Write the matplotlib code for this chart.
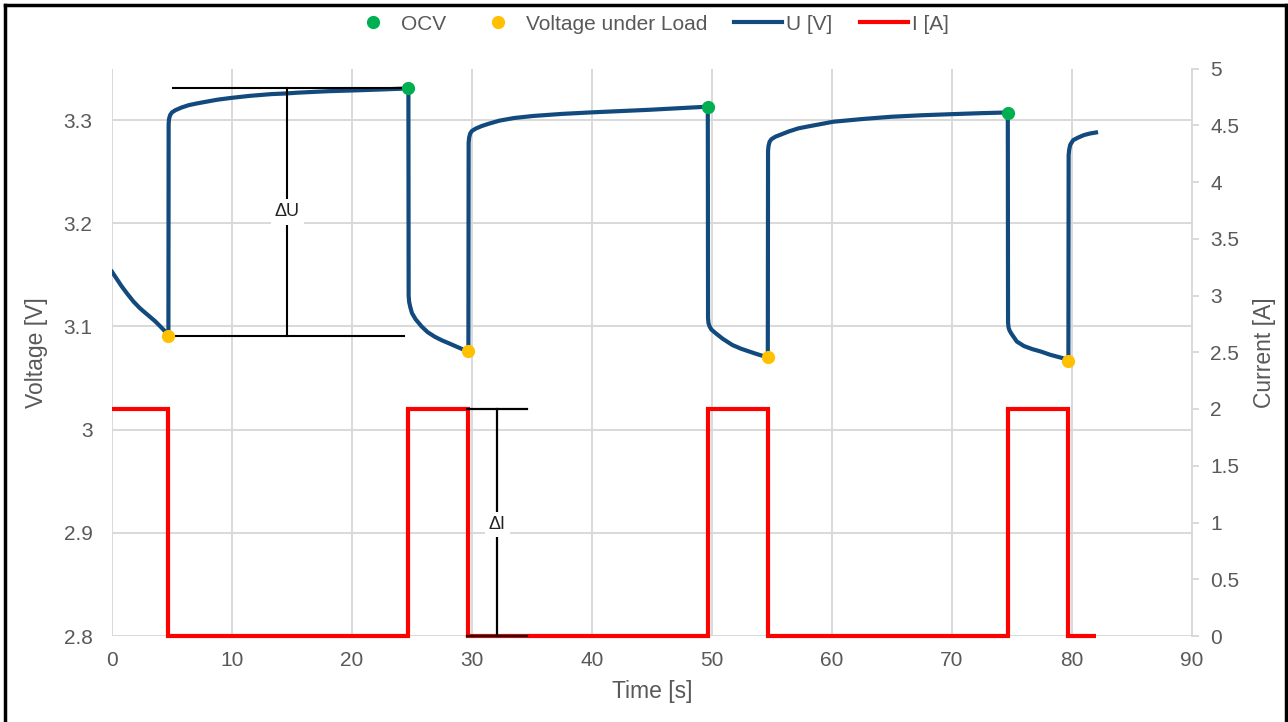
import matplotlib
matplotlib.use("Agg")
import matplotlib.pyplot as plt
from matplotlib.lines import Line2D

# ---------------- data ----------------
time_u = [0, 0.4, 0.8, 1.25, 1.8, 2.3, 2.64, 3.2, 3.6, 4.03, 4.4, 4.7,
          4.72, 4.75, 4.85, 5.0, 5.3, 5.8, 6.4, 7.1, 7.8, 8.8, 10.0, 11.5, 13.3, 14.5,
          15.5, 18.0, 20.5, 22.5, 24.7,
          24.72, 24.76, 24.85, 25.0, 25.3, 25.8, 26.3, 26.9, 27.5, 28.05, 28.7, 29.4, 29.7,
          29.72, 29.76, 29.85, 30.0, 30.3, 30.8, 31.4, 32.3, 33.5, 35.1, 37.5, 40.0,
          42.5, 44.8, 47.2, 49.65,
          49.67, 49.71, 49.8, 49.95, 50.3, 50.9, 51.7, 52.4, 53.1, 53.8, 54.65,
          54.67, 54.71, 54.8, 54.95, 55.3, 55.7, 56.4, 57.2, 57.9, 59.0, 60.1, 62.5,
          64.9, 67.5, 70.1, 72.4, 74.65,
          74.67, 74.71, 74.8, 74.95, 75.4, 76.0, 76.7, 77.4, 78.2, 79.0, 79.7,
          79.72, 79.76, 79.85, 80.1, 80.5, 81.0, 81.5, 82.0]
voltage = [3.153, 3.146, 3.139, 3.132, 3.124, 3.118, 3.1145, 3.109, 3.105, 3.100, 3.0955, 3.091,
           3.296, 3.301, 3.305, 3.3075, 3.3097, 3.3122, 3.3145, 3.3162, 3.3177, 3.3198, 3.3216,
           3.3235, 3.3252, 3.3258, 3.3266, 3.328, 3.3289, 3.3297, 3.3307,
           3.130, 3.124, 3.119, 3.1129, 3.107, 3.100, 3.0945, 3.090, 3.0865, 3.0838, 3.0805,
           3.077, 3.0763,
           3.278, 3.283, 3.287, 3.2895, 3.2917, 3.2942, 3.2965, 3.2995, 3.302, 3.304, 3.306,
           3.3075, 3.3088, 3.310, 3.3115, 3.313,
           3.108, 3.103, 3.100, 3.097, 3.0935, 3.088, 3.082, 3.0785, 3.0757, 3.073, 3.070,
           3.270, 3.275, 3.279, 3.2815, 3.284, 3.2858, 3.289, 3.292, 3.2936, 3.296, 3.2984,
           3.301, 3.3032, 3.3047, 3.3058, 3.3067, 3.3074,
           3.104, 3.099, 3.096, 3.093, 3.0854, 3.081, 3.078, 3.0757, 3.0725, 3.070, 3.0677,
           3.266, 3.271, 3.276, 3.2806, 3.283, 3.2855, 3.287, 3.288]

time_i = [0, 4.7, 4.7, 24.7, 24.7, 29.7, 29.7, 49.7, 49.7, 54.7, 54.7, 74.7, 74.7, 79.7, 79.7, 82.0]
current = [2, 2, 0, 0, 2, 2, 0, 0, 2, 2, 0, 0, 2, 2, 0, 0]

ocv_t = [24.7, 49.65, 74.65]
ocv_v = [3.3307, 3.313, 3.307]
load_t = [4.7, 29.7, 54.65, 79.7]
load_v = [3.091, 3.0763, 3.070, 3.067]

x_ticks = [0, 10, 20, 30, 40, 50, 60, 70, 80, 90]
v_ticks = [2.8, 2.9, 3.0, 3.1, 3.2, 3.3]
v_ticklabels = ["2.8", "2.9", "3", "3.1", "3.2", "3.3"]
i_ticks = [0, 0.5, 1, 1.5, 2, 2.5, 3, 3.5, 4, 4.5, 5]
i_ticklabels = ["0", "0.5", "1", "1.5", "2", "2.5", "3", "3.5", "4", "4.5", "5"]

# annotation extents (time) and label heights
du_x0, du_x1, du_xm, du_label_v = 5.1, 24.3, 14.6, 3.211
di_x0, di_x1, di_xm, di_label_i = 29.6, 34.6, 32.1, 0.98

# ---------------- style ----------------
GRAY = "#595959"
GRID = "#D9D9D9"
BLUE = "#124A7E"
RED = "#FF0000"
GREEN = "#00B050"
YELLOW = "#FFC000"
plt.rcParams["font.family"] = ["Liberation Sans", "DejaVu Sans"]

W, H = 1288, 722
fig = plt.figure(figsize=(W / 100, H / 100), dpi=100)
ax = fig.add_axes([112 / W, 1 - 636 / H, (1192 - 112) / W, (636 - 68.5) / H])
ax2 = ax.twinx()

# voltage axis
ax.set_xlim(0, 90)
ax.set_ylim(2.8, 3.35)
ax.set_xticks(x_ticks)
ax.set_yticks(v_ticks)
ax.set_yticklabels(v_ticklabels)
ax.grid(True, color=GRID, linewidth=1.4)
ax.set_axisbelow(True)
for s in ax.spines.values():
    s.set_visible(False)
ax.tick_params(axis="both", length=0, labelsize=15, labelcolor=GRAY)
ax.tick_params(axis="x", pad=11)
ax.tick_params(axis="y", pad=14)
ax.set_xlabel("Time [s]", fontsize=16.5, color=GRAY, labelpad=7)
ax.set_ylabel("Voltage [V]", fontsize=16.5, color=GRAY, labelpad=11)

# current axis
ax2.set_ylim(0, 5)
ax2.set_yticks(i_ticks)
ax2.set_yticklabels(i_ticklabels)
for k, s in ax2.spines.items():
    s.set_visible(k == "right")
ax2.spines["right"].set_color(GRID)
ax2.spines["right"].set_linewidth(1.4)
ax2.tick_params(axis="y", length=5, width=1.4, color=GRID, labelsize=15, labelcolor=GRAY, pad=8)
ax2.set_ylabel("Current [A]", fontsize=16.5, color=GRAY, labelpad=10)

# series
ax2.plot(time_i, current, color=RED, linewidth=3, solid_joinstyle="miter",
         solid_capstyle="butt", clip_on=False, zorder=3)
ax.plot(time_u, voltage, color=BLUE, linewidth=3, solid_joinstyle="round", zorder=3)
ax.plot(ocv_t, ocv_v, "o", color=GREEN, markersize=8.5, zorder=5)
ax.plot(load_t, load_v, "o", color=YELLOW, markersize=8.5, zorder=5)

# ΔU annotation
u_top, u_bot = ocv_v[0], load_v[0]
for xs, ys in [((du_x0, du_x1), (u_top, u_top)), ((du_x0, du_x1), (u_bot, u_bot)),
               ((du_xm, du_xm), (u_bot, u_top))]:
    ax.plot(xs, ys, color="black", linewidth=1.5, zorder=4)
ax.text(du_xm, du_label_v, "ΔU", ha="center", va="center", fontsize=13, color="#222222",
        bbox=dict(facecolor="white", edgecolor="none", pad=3), zorder=6)

# ΔI annotation
i_top, i_bot = current[0], current[2]
for xs, ys in [((di_x0, di_x1), (i_top, i_top)), ((di_x0, di_x1), (i_bot, i_bot)),
               ((di_xm, di_xm), (i_bot, i_top))]:
    ax2.plot(xs, ys, color="black", linewidth=1.6, clip_on=False, zorder=4)
ax2.text(di_xm, di_label_i, "ΔI", ha="center", va="center", fontsize=13, color="#222222",
         bbox=dict(facecolor="white", edgecolor="none", pad=3), zorder=6)

# legend
handles = [
    Line2D([], [], linestyle="none", marker="o", color=GREEN, markersize=8.5),
    Line2D([], [], linestyle="none", marker="o", color=YELLOW, markersize=8.5),
    Line2D([], [], color=BLUE, linewidth=3),
    Line2D([], [], color=RED, linewidth=3),
]
labels = ["OCV", "Voltage under Load", "U [V]", "I [A]"]
fig.legend(handles, labels, loc="center", bbox_to_anchor=(649 / W, 1 - 24 / H), ncol=4,
           frameon=False, fontsize=15, handlelength=2.3, handletextpad=0.2,
           columnspacing=1.3, labelcolor=GRAY)

# figure border
for xs, ys in [((5 / W, 5 / W), (0, 1 - 4.5 / H)), ((5 / W, 1286 / W), (1 - 4.5 / H, 1 - 4.5 / H)),
               ((1286 / W, 1286 / W), (0, 1 - 4.5 / H))]:
    fig.add_artist(Line2D(xs, ys, transform=fig.transFigure, color="black", linewidth=2.5))

fig.savefig("out.png", dpi=100)
